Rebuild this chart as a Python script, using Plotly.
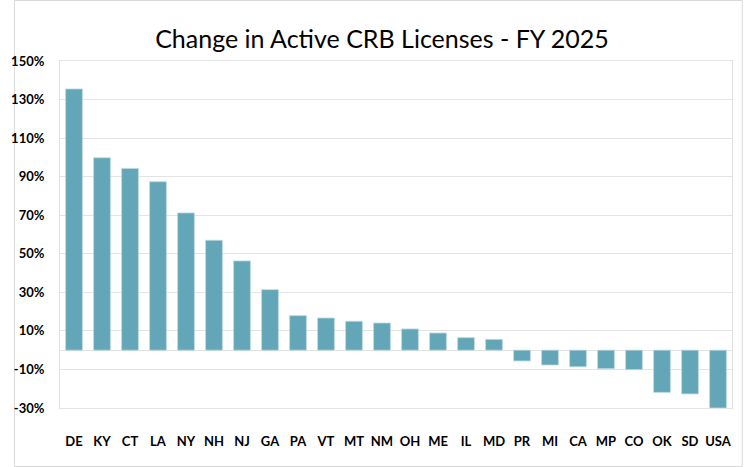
import plotly.graph_objects as go

states = ["DE", "KY", "CT", "LA", "NY", "NH", "NJ", "GA", "PA", "VT", "MT", "NM",
          "OH", "ME", "IL", "MD", "PR", "MI", "CA", "MP", "CO", "OK", "SD", "USA"]
change_pct = [135.5, 99.8, 94.3, 87.4, 71.2, 57.0, 46.3, 31.4, 17.9, 16.7, 15.0, 14.1,
              11.0, 8.9, 6.5, 5.6, -5.6, -7.7, -8.6, -9.6, -10.1, -21.9, -22.7, -30.0]
y_ticks = [-30, -10, 10, 30, 50, 70, 90, 110, 130, 150]
y_tick_labels = [f"{v}%" for v in y_ticks]

L, R, T, B = 47, 11, 61, 59
W, H = 744, 467
pw, ph = W - L - R, H - T - B

fig = go.Figure(go.Bar(
    x=states, y=change_pct,
    marker=dict(color="#62A6B7", line=dict(color="#BCD9E0", width=0.8)),
    width=0.6,
))

fig.update_layout(
    width=W, height=H,
    margin=dict(l=L, r=R, t=T, b=B),
    paper_bgcolor="white", plot_bgcolor="white",
    showlegend=False,
    title=dict(text="Change in Active CRB Licenses - FY 2025",
               x=382 / W, xanchor="center", y=1 - 39 / H, yanchor="middle",
               font=dict(family="Lato", size=25, color="black")),
    font=dict(family="Lato", size=13, color="black"),
)
fig.update_xaxes(
    showgrid=False, showline=True, linecolor="#E3E3E3", mirror=True, linewidth=1,
    tickfont=dict(family="Lato", size=13, color="black", weight="bold"),
    ticklabelstandoff=21, ticks="",
)
fig.update_yaxes(
    range=[-30, 150], tickvals=y_ticks, ticktext=y_tick_labels,
    showgrid=True, gridcolor="#E3E3E3", gridwidth=1,
    zeroline=True, zerolinecolor="#E3E3E3", zerolinewidth=1,
    showline=True, linecolor="#E3E3E3", mirror=True, linewidth=1,
    tickfont=dict(family="Lato", size=13, color="black", weight="bold"),
    ticklabelstandoff=12, ticks="",
)
fig.add_shape(type="rect", xref="paper", yref="paper",
              x0=-(L - 0.5) / pw, x1=1 + (R - 0.5) / pw,
              y0=-(B - 0.5) / ph, y1=1 + (T - 0.5) / ph,
              line=dict(color="#D9D9D9", width=1), layer="below")

fig.write_html("out.html", config={"displayModeBar": False},
               post_script="document.body.style.margin='0';document.body.style.overflow='hidden';")
